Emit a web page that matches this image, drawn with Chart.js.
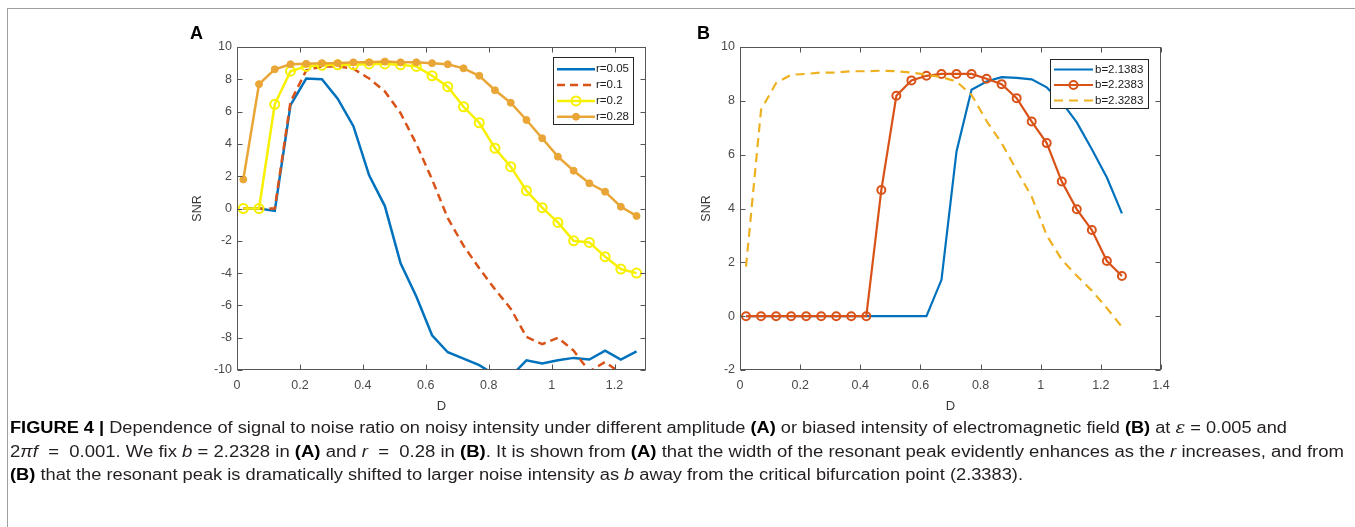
<!DOCTYPE html>
<html>
<head>
<meta charset="utf-8">
<script src="https://cdn.jsdelivr.net/npm/chart.js@4.4.1/dist/chart.umd.min.js"></script>
<style>
  body { margin: 0; background: #fff; }
  #page { position: relative; width: 1355px; height: 527px; overflow: hidden; background: #fff; }
  #frame { position: absolute; left: 7px; top: 8px; width: 1400px; height: 600px; border-top: 1px solid #a0a0a0; border-left: 1px solid #a0a0a0; }
  .plabel { position: absolute; font: bold 18px "Liberation Sans", Arial, sans-serif; line-height: 18px; color: #000; }
  canvas { position: absolute; left: 0; top: 0; }
  .cap { position: absolute; left: 10px; white-space: nowrap; font-size: 16px; line-height: 20px; color: #231f20;
         transform-origin: 0 50%; font-family: "Liberation Sans Narrow", "Liberation Sans", Arial, sans-serif; }
  .cap b { color: #000; }
  .eps { font-family: "DejaVu Serif", serif; font-style: italic; }
</style>
</head>
<body>
<div id="page">
  <div id="frame"></div>
  <canvas id="chartA" width="1355" height="527"></canvas>
  <canvas id="chartB" width="1355" height="527"></canvas>
  <div class="plabel" style="left:190px; top:24px;">A</div>
  <div class="plabel" style="left:697px; top:24px;">B</div>
  <div class="cap" data-w="1277" style="top:418px;"><b>FIGURE 4 |</b> Dependence of signal to noise ratio on noisy intensity under different amplitude <b>(A)</b> or biased intensity of electromagnetic field <b>(B)</b> at <span class="eps">ε</span> = 0.005 and</div>
  <div class="cap" data-w="1334" style="top:442px;">2<i>πf</i> &nbsp;=&nbsp; 0.001. We fix <i>b</i> = 2.2328 in <b>(A)</b> and <i>r</i> &nbsp;=&nbsp; 0.28 in <b>(B)</b>. It is shown from <b>(A)</b> that the width of the resonant peak evidently enhances as the <i>r</i> increases, and from</div>
  <div class="cap" data-w="1013" style="top:465px;"><b>(B)</b> that the resonant peak is dramatically shifted to larger noise intensity as <i>b</i> away from the critical bifurcation point (2.3383).</div>
</div>
<script>
// noise intensity D, same grid for every curve
const D = [0.02, 0.07, 0.12, 0.17, 0.22, 0.27, 0.32, 0.37, 0.42, 0.47, 0.52, 0.57, 0.62,
           0.67, 0.72, 0.77, 0.82, 0.87, 0.92, 0.97, 1.02, 1.07, 1.12, 1.17, 1.22, 1.27];

// panel A: SNR for different amplitude r
const snr_r005 = [0, 0, -0.15, 6.4, 8.05, 8.0, 6.8, 5.1, 2.05, 0.15, -3.4, -5.45, -7.85,
                  -8.9, -9.3, -9.7, -10.3, -10.4, -9.4, -9.6, -9.4, -9.25, -9.35, -8.8, -9.35, -8.85];
const snr_r01 = [0, 0, 0, 6.6, 8.55, 8.8, 8.8, 8.65, 8.05, 7.25, 5.9, 4.0, 1.8,
                 -0.6, -2.3, -3.7, -5.0, -6.2, -7.95, -8.4, -8.0, -8.8, -10.1, -9.5, -10.2, -10.6];
const snr_r02 = [0, 0, 6.45, 8.5, 8.8, 8.87, 8.9, 8.9, 8.95, 8.95, 8.9, 8.8, 8.22,
                 7.54, 6.3, 5.31, 3.73, 2.59, 1.1, 0.05, -0.86, -2.0, -2.1, -2.98, -3.75, -4.0];
const snr_r028 = [1.8, 7.7, 8.62, 8.93, 8.96, 9.0, 9.0, 9.05, 9.05, 9.1, 9.05, 9.05, 9.0,
                  8.93, 8.68, 8.22, 7.32, 6.55, 5.48, 4.35, 3.21, 2.34, 1.56, 1.04, 0.11, -0.46];

// panel B: SNR for different biased intensity b
const snr_b21383 = [0, 0, 0, 0, 0, 0, 0, 0, 0, 0, 0, 0, 0,
                    1.35, 6.12, 8.41, 8.72, 8.88, 8.85, 8.8, 8.5, 7.95, 7.2, 6.2, 5.15, 3.82];
const snr_b22383 = [0, 0, 0, 0, 0, 0, 0, 0, 0, 4.69, 8.19, 8.76, 8.93,
                    9.0, 9.0, 9.0, 8.82, 8.62, 8.1, 7.23, 6.43, 5.0, 3.97, 3.2, 2.05, 1.49];
const snr_b23283 = [1.84, 7.67, 8.66, 8.97, 9.0, 9.05, 9.05, 9.1, 9.1, 9.12, 9.1, 9.05, 8.97,
                    8.88, 8.72, 8.22, 7.25, 6.43, 5.42, 4.44, 3.0, 2.1, 1.5, 0.95, 0.3, -0.4];

// tick labels
const xTicksA = [0, 0.2, 0.4, 0.6, 0.8, 1, 1.2];
const yTicksA = [-10, -8, -6, -4, -2, 0, 2, 4, 6, 8, 10];
const xTicksB = [0, 0.2, 0.4, 0.6, 0.8, 1, 1.2, 1.4];
const yTicksB = [-2, 0, 2, 4, 6, 8, 10];

const tickColor = "#4a4a4a";

function pts(ys) {
    return D.map((x, i) => ({ x: x, y: ys[i] }));
}

// matlab style box with inward ticks, and the legend box
const matlabAxes = {
    id: "matBox",
    afterDatasetsDraw(chart, args, o) {
        const { ctx, chartArea: a, scales } = chart;
        ctx.save();
        ctx.strokeStyle = "#555";
        ctx.lineWidth = 1;
        const L = Math.round(a.left) + 0.5, R = Math.round(a.right) - 0.5;
        const T = Math.round(a.top) + 0.5, B = Math.round(a.bottom) - 0.5;
        ctx.strokeRect(L, T, R - L, B - T);
        ctx.beginPath();
        o.xTicks.forEach(v => {
            const px = Math.round(scales.x.getPixelForValue(v)) + 0.5;
            ctx.moveTo(px, B); ctx.lineTo(px, B - 5);
            ctx.moveTo(px, T); ctx.lineTo(px, T + 5);
        });
        o.yTicks.forEach(v => {
            const py = Math.round(scales.y.getPixelForValue(v)) + 0.5;
            ctx.moveTo(L, py); ctx.lineTo(L + 5, py);
            ctx.moveTo(R, py); ctx.lineTo(R - 5, py);
        });
        ctx.stroke();

        // legend
        const g = o.legend;
        ctx.fillStyle = "#fff";
        ctx.fillRect(g.x, g.y, g.w, g.h);
        ctx.strokeStyle = "#262626";
        ctx.strokeRect(g.x + 0.5, g.y + 0.5, g.w, g.h);
        ctx.font = '11.5px "Liberation Sans", Arial, sans-serif';
        ctx.textBaseline = "middle";
        ctx.textAlign = "left";
        ctx.fillStyle = "#1a1a1a";
        chart.data.datasets.forEach((ds, i) => {
            const yy = g.rowY + i * g.rowGap;
            ctx.save();
            ctx.strokeStyle = ds.borderColor;
            ctx.lineWidth = ds.borderWidth;
            ctx.setLineDash(ds.borderDash || []);
            ctx.beginPath();
            ctx.moveTo(g.x1, yy);
            ctx.lineTo(g.x2, yy);
            ctx.stroke();
            ctx.setLineDash([]);
            if (ds.pointRadius > 0) {
                ctx.beginPath();
                ctx.arc((g.x1 + g.x2) / 2, yy, ds.pointRadius, 0, 2 * Math.PI);
                ctx.fillStyle = ds.pointBackgroundColor;
                ctx.fill();
                ctx.lineWidth = ds.pointBorderWidth;
                ctx.strokeStyle = ds.borderColor;
                ctx.stroke();
            }
            ctx.restore();
            ctx.fillText(ds.label, g.tx, yy);
        });
        ctx.restore();
    },
};

function panelOptions(p) {
    return {
        responsive: false,
        animation: false,
        events: [],
        layout: { padding: { left: p.left, top: p.top, right: p.right, bottom: p.bottom } },
        plugins: {
            legend: { display: false },
            tooltip: { enabled: false },
            matBox: { xTicks: p.xTicks, yTicks: p.yTicks, legend: p.legend },
        },
        scales: {
            x: {
                type: "linear",
                min: p.xMin,
                max: p.xMax,
                grid: { display: false, drawTicks: false },
                border: { display: false },
                ticks: {
                    padding: 8,
                    color: tickColor,
                    font: { size: 12.5, family: '"Liberation Sans", Arial, sans-serif' },
                    maxRotation: 0,
                    autoSkip: false,
                    callback: v => String(v),
                },
                afterBuildTicks: s => { s.ticks = p.xTicks.map(v => ({ value: v })); },
                afterFit: s => { s.height = p.xAxisH; },
                title: {
                    display: true, text: "D", color: "#3a3a3a",
                    font: { size: 13, family: '"Liberation Sans", Arial, sans-serif' },
                    padding: { top: 4, bottom: 4 },
                },
            },
            y: {
                type: "linear",
                min: p.yMin,
                max: p.yMax,
                grid: { display: false, drawTicks: false },
                border: { display: false },
                ticks: {
                    padding: 5,
                    color: tickColor,
                    font: { size: 12.5, family: '"Liberation Sans", Arial, sans-serif' },
                    autoSkip: false,
                    callback: v => String(v),
                },
                afterBuildTicks: s => { s.ticks = p.yTicks.map(v => ({ value: v })); },
                afterFit: s => { s.width = p.yAxisW; },
                title: {
                    display: true, text: "SNR", color: "#3a3a3a",
                    font: { size: 12.5, family: '"Liberation Sans", Arial, sans-serif' },
                    padding: { top: 4, bottom: 4 },
                },
            },
        },
    };
}

const chartA = new Chart(document.getElementById("chartA"), {
    type: "line",
    data: {
        datasets: [
            { label: "r=0.05", data: pts(snr_r005), borderColor: "#0072BD", borderWidth: 2.5, pointRadius: 0, order: 3 },
            { label: "r=0.1", data: pts(snr_r01), borderColor: "#D95319", borderWidth: 2.5, borderDash: [8, 5], pointRadius: 0, order: 2 },
            { label: "r=0.2", data: pts(snr_r02), borderColor: "#F7F000", borderWidth: 2.5, pointRadius: 4.5,
              pointBorderWidth: 2, pointBackgroundColor: "rgba(0,0,0,0)", order: 1 },
            { label: "r=0.28", data: pts(snr_r028), borderColor: "#E9A636", borderWidth: 2.5, pointRadius: 3.5,
              pointBorderWidth: 1, pointBackgroundColor: "#E9A636", order: 0 },
        ],
    },
    options: panelOptions({
        left: 186.5, top: 47, right: 1355 - 646, bottom: 109.2, yAxisW: 50.5, xAxisH: 47.8,
        xMin: 0, xMax: 1.3, yMin: -10, yMax: 10, xTicks: xTicksA, yTicks: yTicksA,
        legend: { x: 553, y: 57, w: 80, h: 67, rowY: 69.3, rowGap: 15.8, x1: 557, x2: 595, tx: 596 },
    }),
    plugins: [matlabAxes],
});

const chartB = new Chart(document.getElementById("chartB"), {
    type: "line",
    data: {
        datasets: [
            { label: "b=2.1383", data: pts(snr_b21383), borderColor: "#0072BD", borderWidth: 2.2, pointRadius: 0, order: 2 },
            { label: "b=2.2383", data: pts(snr_b22383), borderColor: "#D95319", borderWidth: 2.2, pointRadius: 4,
              pointBorderWidth: 2, pointBackgroundColor: "rgba(0,0,0,0)", order: 1 },
            { label: "b=2.3283", data: pts(snr_b23283), borderColor: "#EDB120", borderWidth: 2.2, borderDash: [9, 6], pointRadius: 0, order: 0 },
        ],
    },
    options: panelOptions({
        left: 695.5, top: 47, right: 1355 - 1161, bottom: 109.2, yAxisW: 44.5, xAxisH: 47.8,
        xMin: 0, xMax: 1.4, yMin: -2, yMax: 10, xTicks: xTicksB, yTicks: yTicksB,
        legend: { x: 1050, y: 59, w: 98, h: 49, rowY: 69.5, rowGap: 15.5, x1: 1054, x2: 1093, tx: 1095 },
    }),
    plugins: [matlabAxes],
});

// squeeze each caption line to the width it has in the figure
function fitCaption() {
    document.querySelectorAll(".cap").forEach(l => {
        const k = Number(l.dataset.w) / l.getBoundingClientRect().width;
        l.style.transform = "scaleX(" + k + ")";
    });
}
fitCaption();
</script>
</body>
</html>
